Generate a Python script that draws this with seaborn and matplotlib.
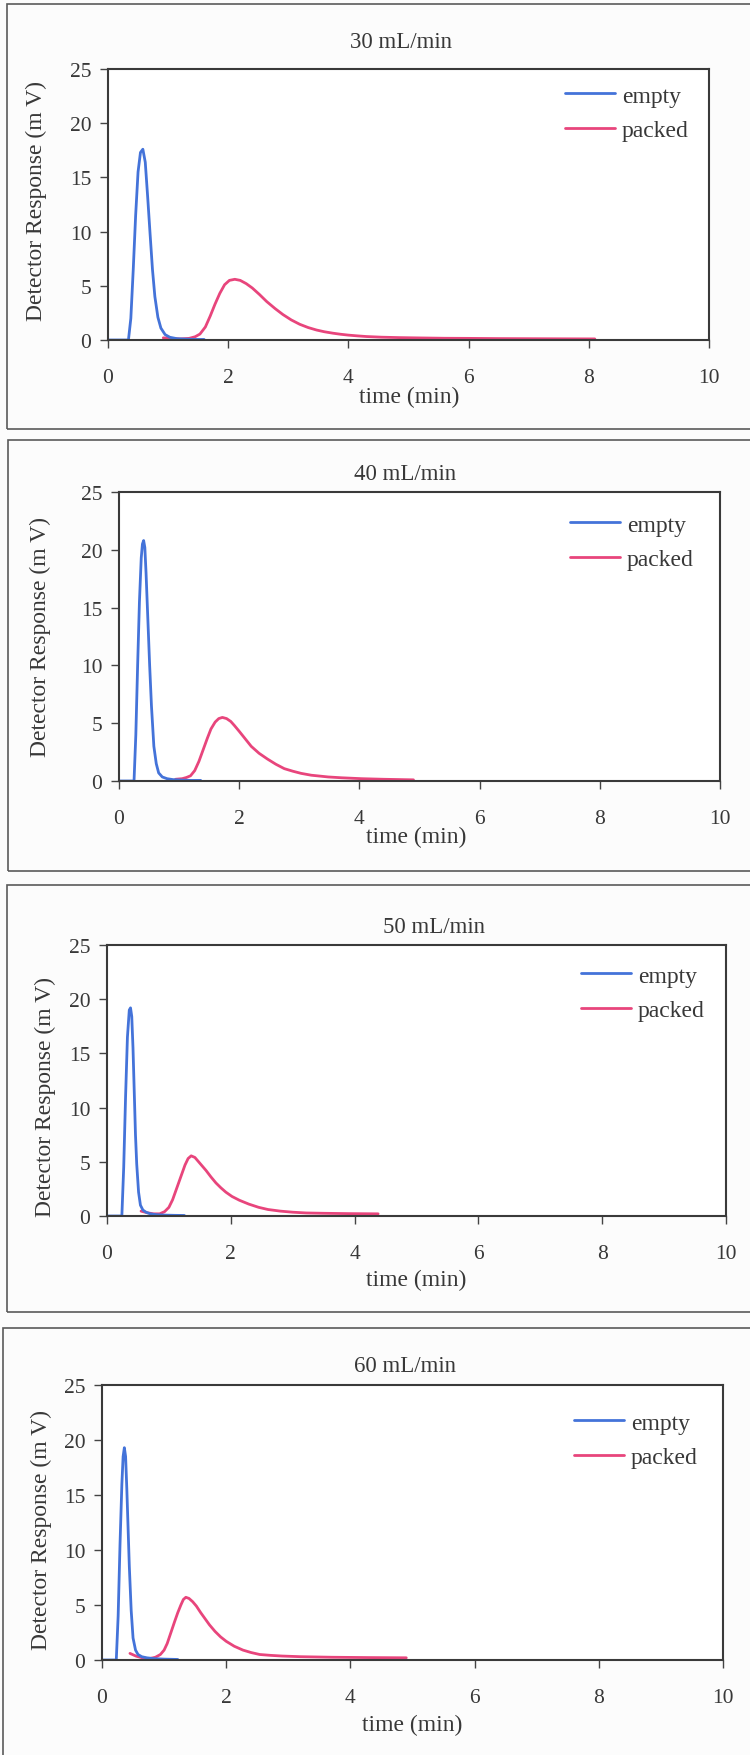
import numpy as np
import pandas as pd
import matplotlib
matplotlib.use("Agg")
import matplotlib.pyplot as plt
from matplotlib.patches import Rectangle
import seaborn as sns

# ---- chromatogram data: time (min) and detector response (mV) ----
flow_rates = ["30 mL/min", "40 mL/min", "50 mL/min", "60 mL/min"]

empty_t_30 = [0.0, 0.34, 0.38, 0.42, 0.46, 0.50, 0.54, 0.58, 0.62, 0.66, 0.70, 0.74,
              0.78, 0.83, 0.88, 0.95, 1.03, 1.15, 1.30, 1.45, 1.60]
empty_v_30 = [0.0, 0.0, 2.0, 6.5, 11.5, 15.5, 17.3, 17.6, 16.4, 13.2, 9.8, 6.5,
              4.0, 2.1, 1.1, 0.5, 0.25, 0.12, 0.08, 0.05, 0.05]
packed_t_30 = [0.92, 1.05, 1.20, 1.35, 1.45, 1.53, 1.62, 1.70, 1.78, 1.86, 1.94, 2.02,
               2.11, 2.20, 2.30, 2.40, 2.52, 2.64, 2.78, 2.91, 3.05, 3.19, 3.33, 3.47,
               3.60, 3.74, 3.87, 4.00, 4.15, 4.30, 4.55, 4.85, 5.2, 5.6, 6.0, 6.5,
               7.0, 7.5, 8.1]
packed_v_30 = [0.2, 0.15, 0.1, 0.15, 0.3, 0.55, 1.2, 2.2, 3.3, 4.3, 5.1, 5.5,
               5.6, 5.5, 5.2, 4.8, 4.2, 3.55, 2.9, 2.35, 1.85, 1.45, 1.15, 0.92,
               0.76, 0.63, 0.53, 0.45, 0.38, 0.32, 0.26, 0.22, 0.19, 0.16, 0.15, 0.13,
               0.12, 0.11, 0.1]

empty_t_40 = [0.0, 0.25, 0.28, 0.31, 0.34, 0.37, 0.39, 0.41, 0.43, 0.45, 0.48, 0.51,
              0.54, 0.58, 0.62, 0.66, 0.72, 0.80, 0.90, 1.05, 1.20, 1.36]
empty_v_40 = [0.0, 0.0, 4.0, 10.0, 15.5, 19.3, 20.5, 20.8, 20.2, 18.0, 14.0, 10.0,
              6.5, 3.0, 1.5, 0.7, 0.35, 0.2, 0.12, 0.08, 0.05, 0.05]
packed_t_40 = [0.94, 1.05, 1.12, 1.19, 1.26, 1.33, 1.40, 1.47, 1.53, 1.60, 1.66, 1.72,
               1.79, 1.86, 1.92, 2.00, 2.10, 2.20, 2.33, 2.47, 2.61, 2.75, 2.89, 3.03,
               3.20, 3.35, 3.48, 3.70, 4.04, 4.40, 4.90]
packed_v_40 = [0.15, 0.2, 0.3, 0.45, 0.9, 1.7, 2.7, 3.7, 4.5, 5.1, 5.4, 5.5,
               5.4, 5.15, 4.8, 4.3, 3.65, 3.0, 2.4, 1.9, 1.45, 1.07, 0.85, 0.66,
               0.5, 0.42, 0.35, 0.28, 0.2, 0.15, 0.1]

empty_t_50 = [0.0, 0.24, 0.27, 0.30, 0.33, 0.36, 0.38, 0.40, 0.42, 0.44, 0.46, 0.48,
              0.51, 0.54, 0.58, 0.63, 0.70, 0.80, 0.95, 1.10, 1.25]
empty_v_50 = [0.0, 0.0, 4.5, 11.0, 16.5, 19.0, 19.2, 18.4, 15.5, 11.5, 7.5, 4.8,
              2.2, 1.0, 0.55, 0.35, 0.2, 0.12, 0.08, 0.06, 0.05]
packed_t_50 = [0.55, 0.65, 0.75, 0.85, 0.93, 1.00, 1.06, 1.11, 1.16, 1.21, 1.26, 1.31,
               1.36, 1.42, 1.48, 1.54, 1.60, 1.68, 1.76, 1.84, 1.92, 2.02, 2.14, 2.29,
               2.45, 2.60, 2.80, 3.00, 3.22, 3.50, 3.90, 4.38]
packed_v_50 = [0.45, 0.3, 0.2, 0.2, 0.4, 0.8, 1.5, 2.3, 3.1, 3.9, 4.7, 5.3,
               5.55, 5.4, 5.0, 4.6, 4.2, 3.6, 3.05, 2.6, 2.2, 1.8, 1.45, 1.1,
               0.8, 0.6, 0.45, 0.35, 0.28, 0.25, 0.22, 0.2]

empty_t_60 = [0.0, 0.23, 0.26, 0.29, 0.32, 0.34, 0.36, 0.38, 0.40, 0.42, 0.44, 0.47,
              0.50, 0.54, 0.58, 0.64, 0.72, 0.85, 1.00, 1.22]
empty_v_60 = [0.0, 0.0, 4.0, 10.5, 16.0, 18.5, 19.3, 18.5, 15.5, 12.0, 8.5, 4.5,
              2.0, 0.9, 0.5, 0.3, 0.2, 0.12, 0.08, 0.05]
packed_t_60 = [0.45, 0.55, 0.65, 0.76, 0.86, 0.94, 1.00, 1.05, 1.11, 1.17, 1.22, 1.27,
               1.31, 1.35, 1.40, 1.46, 1.52, 1.59, 1.66, 1.73, 1.82, 1.91, 2.00, 2.13,
               2.27, 2.40, 2.54, 2.72, 2.90, 3.20, 3.70, 4.30, 4.90]
packed_v_60 = [0.6, 0.35, 0.2, 0.12, 0.25, 0.5, 0.9, 1.5, 2.5, 3.5, 4.3, 5.0,
               5.5, 5.7, 5.6, 5.3, 4.9, 4.3, 3.75, 3.2, 2.6, 2.1, 1.7, 1.25,
               0.9, 0.68, 0.5, 0.42, 0.36, 0.3, 0.25, 0.22, 0.2]

series = {
    "30 mL/min": (empty_t_30, empty_v_30, packed_t_30, packed_v_30),
    "40 mL/min": (empty_t_40, empty_v_40, packed_t_40, packed_v_40),
    "50 mL/min": (empty_t_50, empty_v_50, packed_t_50, packed_v_50),
    "60 mL/min": (empty_t_60, empty_v_60, packed_t_60, packed_v_60),
}

x_ticks = [0, 2, 4, 6, 8, 10]
y_ticks = [0, 5, 10, 15, 20, 25]
x_label = "time (min)"
y_label = "Detector Response (m V)"
column_names = ["empty", "packed"]
palette = {"empty": "#4473d9", "packed": "#e8457c"}

# ---- page layout in pixels (figure is 750 x 1756) ----
W, H = 750, 1756
# axes box: left, right, top, bottom
axes_px = [(108, 709, 70, 341), (119, 720, 493, 782),
           (107, 726, 946, 1217), (102, 723, 1386, 1661)]
# outer chart-area frame: left, top, bottom
frame_px = [(7, 5, 430), (8, 441, 872), (7, 886, 1313), (3, 1329, 1790)]
title_px = [(401, 43), (405, 475), (434, 928), (405, 1367)]
xlabel_px = [(409, 397), (416, 837), (416, 1280), (412, 1725)]
ylabel_px = [(36, 201), (40, 637), (45, 1097), (41, 1530)]
legend_px = [(565, 86), (570, 515), (581, 966), (574, 1413)]

sns.set_theme(style="white")
plt.rcParams["font.family"] = ["Liberation Serif", "DejaVu Serif"]
text_color = "#383838"

fig = plt.figure(figsize=(W / 100, H / 100), dpi=100, facecolor="#fcfcfc")

for i, name in enumerate(flow_rates):
    et, ev, pt, pv = series[name]
    df = pd.concat([
        pd.DataFrame({"time": et, "response": ev, "column": "empty"}),
        pd.DataFrame({"time": pt, "response": pv, "column": "packed"}),
    ], ignore_index=True)

    L, R, T, B = axes_px[i]
    ax = fig.add_axes([L / W, 1 - B / H, (R - L) / W, (B - T) / H])
    ax.set_facecolor("white")

    # packed drawn first so the empty peak sits on top
    sns.lineplot(data=df[df["column"] == "packed"], x="time", y="response",
                 color=palette["packed"], linewidth=2.0, estimator=None,
                 sort=False, ax=ax, label="packed")
    sns.lineplot(data=df[df["column"] == "empty"], x="time", y="response",
                 color=palette["empty"], linewidth=2.0, estimator=None,
                 sort=False, ax=ax, label="empty")

    ax.set_xlim(0, 10)
    ax.set_ylim(0, 25)
    ax.set_xticks(x_ticks)
    ax.set_yticks(y_ticks)
    ax.tick_params(axis="both", which="major", direction="out", length=6,
                   width=1.0, color="#444444", labelsize=15.5,
                   labelcolor=text_color, left=True, bottom=True)
    ax.tick_params(axis="x", pad=14)
    ax.tick_params(axis="y", pad=6)
    for sp in ax.spines.values():
        sp.set_visible(True)
        sp.set_color("#3a3a3a")
        sp.set_linewidth(1.5)

    def to_axes(px, py):
        return (px - L) / (R - L), (B - py) / (B - T)

    ax.set_xlabel(x_label, fontsize=17, color=text_color)
    ax.xaxis.label.set_va("center")
    ax.xaxis.set_label_coords(*to_axes(*xlabel_px[i]))
    ax.set_ylabel(y_label, fontsize=17, color=text_color)
    ax.yaxis.label.set_va("center")
    ax.yaxis.set_label_coords(*to_axes(*ylabel_px[i]))

    tx, ty = to_axes(*title_px[i])
    ax.text(tx, ty, name, transform=ax.transAxes, ha="center", va="center",
            fontsize=16.5, color=text_color)

    handles, labels = ax.get_legend_handles_labels()
    order = [labels.index(c) for c in column_names]
    lx, ly = legend_px[i]
    ax.legend([handles[k] for k in order], [labels[k] for k in order],
              loc="upper left", bbox_to_anchor=(lx / W, 1 - ly / H),
              bbox_transform=fig.transFigure, frameon=False, fontsize=17,
              handlelength=2.1, handletextpad=0.3, labelspacing=0.55,
              borderpad=0, borderaxespad=0, labelcolor=text_color)

    fl, ft, fb = frame_px[i]
    fig.patches.append(Rectangle((fl / W, 1 - fb / H), (W + 20 - fl) / W,
                                 (fb - ft) / H, transform=fig.transFigure,
                                 fill=False, edgecolor="#5a5a5a", linewidth=1.2))

fig.savefig("out.png", dpi=100, facecolor=fig.get_facecolor())
